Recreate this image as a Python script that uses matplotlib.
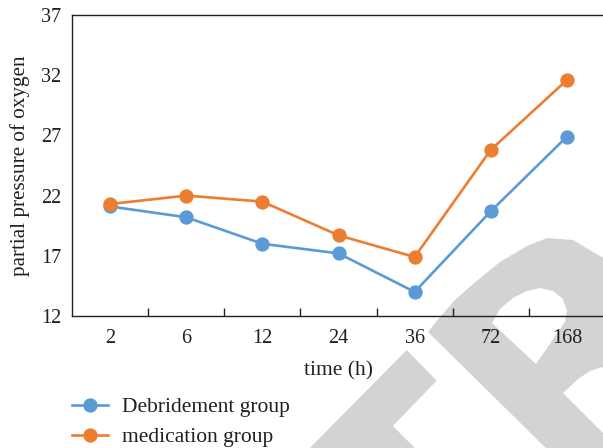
import matplotlib
matplotlib.use("Agg")
import matplotlib.pyplot as plt
from matplotlib.patches import Polygon

# Sampling times and mean partial pressure of oxygen per group
times = ["2", "6", "12", "24", "36", "72", "168"]
debridement = [21.1, 20.2, 18.0, 17.2, 14.0, 20.7, 26.9]
medication = [21.3, 22.0, 21.5, 18.7, 16.9, 25.8, 31.6]
series_labels = ["Debridement group", "medication group"]
y_ticks = [12, 17, 22, 27, 32, 37]

BLUE = "#5B9BD5"
ORANGE = "#ED7D31"
INK = "#231F20"
W, H = 603, 448

plt.rcParams["font.family"] = ["Liberation Serif", "DejaVu Serif"]
plt.rcParams["font.size"] = 14.5

fig = plt.figure(figsize=(W / 100, H / 100), dpi=100)
fig.patch.set_facecolor("white")


def px(points):
    """Pixel coordinates (origin top-left) -> figure fraction."""
    return [(x / W, 1 - y / H) for x, y in points]


# light grey publisher mark behind the plot
GREY = "#D3D3D3"
shapes_grey = [
    [(300, 458), (406.7, 350), (436.7, 380.7), (392.7, 426), (425, 458)],
    [(428, 332), (440, 317), (455, 300), (473, 284), (500, 262), (527, 246),
     (547, 238), (573, 240), (600, 256), (615, 264), (615, 458), (556, 458)],
]
shapes_white = [
    [(492, 323), (500, 309), (513, 298), (527, 291), (540, 288), (553, 291),
     (562, 298), (567, 310), (565, 322), (536, 364)],
    [(563, 393), (578, 379), (590, 371), (603, 367), (615, 367), (615, 445),
     (603, 433)],
]
for pts in shapes_grey:
    fig.patches.append(Polygon(px(pts), closed=True, transform=fig.transFigure,
                               facecolor=GREY, edgecolor="none", zorder=-2))
for pts in shapes_white:
    fig.patches.append(Polygon(px(pts), closed=True, transform=fig.transFigure,
                               facecolor="white", edgecolor="none", zorder=-1))

ax = fig.add_axes([72 / W, (H - 316) / H, (605 - 72) / W, (316 - 15) / H])
ax.set_facecolor("none")

x = list(range(len(times)))
ax.plot(x, debridement, color=BLUE, lw=1.9, marker="o", ms=9.3,
        label=series_labels[0], zorder=3)
ax.plot(x, medication, color=ORANGE, lw=1.9, marker="o", ms=9.3,
        label=series_labels[1], zorder=4)

ax.set_xlim(-0.5, len(times) - 0.5)
ax.set_ylim(y_ticks[0], y_ticks[-1])
ax.set_yticks(y_ticks)
ax.set_xticks(x)
ax.set_xticklabels(times)
ax.set_xticks([i + 0.5 for i in range(len(times) - 1)], minor=True)

ax.tick_params(axis="y", length=0, pad=7.5, labelcolor=INK)
ax.tick_params(axis="x", which="major", length=0, pad=9.5, labelcolor=INK)
ax.tick_params(axis="x", which="minor", direction="in", length=5.5,
               width=1, color=INK)

for side in ("left", "top", "bottom"):
    ax.spines[side].set_color(INK)
    ax.spines[side].set_linewidth(1.0)
ax.spines["right"].set_visible(False)

ax.set_xlabel("time (h)", color=INK, va="center", fontsize=15.5)
ax.xaxis.set_label_coords(0.5, (316 - 371) / (316 - 15))
ax.set_ylabel("partial pressure of oxygen", color=INK, va="center",
              fontsize=15.2)
ax.yaxis.set_label_coords((20 - 72) / (605 - 72), 0.5)

fig.legend(loc="upper left", bbox_to_anchor=(72 / W, 1 - 397 / H),
           frameon=False, borderaxespad=0, borderpad=0, fontsize=15.5,
           handlelength=1.68, handletextpad=0.62, labelspacing=0.46,
           labelcolor=INK)

fig.savefig("out.png", dpi=100)
